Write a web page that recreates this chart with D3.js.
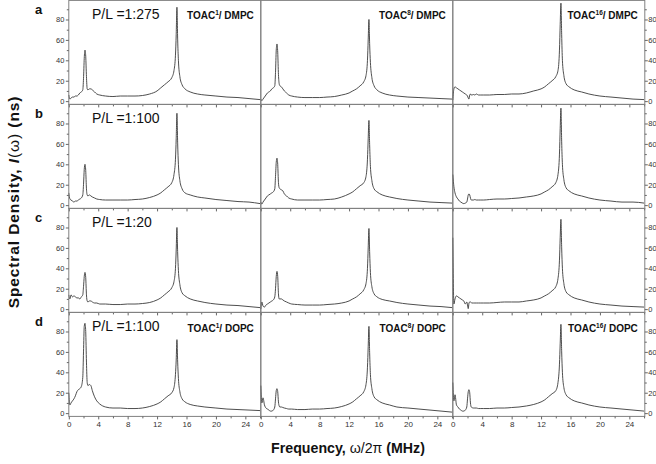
<!DOCTYPE html>
<html>
<head>
<meta charset="utf-8">
<script src="https://cdn.jsdelivr.net/npm/d3@7"></script>
<style>
body { margin: 0; background: #fff; }
svg { display: block; font-family: "Liberation Sans", Arial, sans-serif; }
</style>
</head>
<body>
<svg id="chart" width="656" height="464"></svg>
<script>
// frequency grid (MHz), shared by all spectra
var freq = [0, 0.15, 0.3, 0.5, 0.7, 0.9, 1.1, 1.3, 1.5, 1.7,
	1.9, 2.0, 2.1, 2.2, 2.3, 2.4, 2.5, 2.6, 2.8, 3.0,
	3.2, 3.5, 3.8, 4.2, 5, 6, 7, 8, 9, 10,
	11, 12, 12.5, 13, 13.5, 14, 14.3, 14.5, 14.6, 14.7,
	14.8, 14.9, 15.1, 15.4, 15.8, 16.5, 17.5, 18.5, 20, 21.5,
	23, 24.5, 26];

// spectral density I(w) in ns
var a1 = [6, 2, 3, 4, 4, 5, 5, 6, 8, 9,
	11, 22, 42, 50, 44, 24, 12, 11, 12, 12,
	11, 9, 7, 6, 5, 4.5, 5, 5, 5, 5.5,
	7, 10, 13, 16, 19, 23, 30, 45, 65, 92,
	60, 40, 24, 16, 12, 9, 7, 6, 5, 4,
	3.5, 2.5, 1.5];
var a2 = [2, 0.5, 2, 4, 6, 8, 9, 10, 12, 13,
	15, 28, 50, 56, 48, 26, 17, 15, 14, 12,
	10, 8, 6, 5, 4, 3.5, 3.5, 3.5, 4, 4.5,
	6, 8, 10, 12, 15, 19, 25, 40, 60, 80,
	55, 38, 23, 15, 11, 8, 6, 5, 4, 3.5,
	3, 2.5, 2];
var a3 = [1, 12, 14, 13, 12, 11, 10, 9, 8, 7,
	6, 5, 3, 2, 6, 7, 6, 6, 6.5, 6,
	7, 6, 6, 6, 6, 6.5, 6.5, 7, 7, 8,
	10, 12, 14, 17, 20, 24, 30, 50, 75, 96,
	65, 40, 25, 17, 14, 11, 9, 7, 5, 4,
	3, 2, 1.5];
var b1 = [12, 6, 5, 4, 3, 4, 4, 5, 6, 7,
	10, 20, 35, 40, 34, 16, 10, 9, 10, 9,
	8, 7, 6, 5.5, 5, 5, 5, 5, 5.5, 6,
	7.5, 10, 12, 15, 18, 22, 30, 45, 65, 90,
	60, 40, 24, 16, 12, 10, 8, 7, 5.5, 4.5,
	3.5, 3, 1.5];
var b2 = [3, 1, 3, 5, 7, 9, 10, 11, 12, 13,
	16, 28, 42, 46, 40, 22, 17, 16, 15, 14,
	11, 9, 7, 6, 5, 5, 5, 5, 5.5, 6,
	8, 11, 13, 16, 19, 22, 28, 45, 65, 83,
	58, 38, 24, 16, 13, 10, 8, 6.5, 5, 4,
	3, 2.5, 2];
var b3 = [30, 18, 12, 8, 6, 4, 3, 2, 1.5, 2,
	3, 6, 10, 11, 10, 7, 5, 5, 5, 5.5,
	5, 5, 5, 5, 5.5, 6, 6, 6.5, 7, 8,
	9, 11, 13, 15, 18, 22, 30, 50, 75, 95,
	62, 40, 25, 17, 14, 11, 9, 7, 5, 4,
	3, 3, 2];
var c1 = [14, 10, 14, 12, 13, 12, 11, 11, 10, 12,
	14, 22, 32, 36, 31, 14, 8, 7, 8, 8,
	7, 6, 6, 5, 5, 4.5, 4.5, 5, 5, 5.5,
	6.5, 9, 11, 14, 17, 21, 27, 40, 58, 80,
	55, 38, 24, 16, 13, 10, 8, 6.5, 5, 4,
	3.5, 2.5, 1.5];
var c2 = [0, 7, 3, 2, 4, 5, 6, 7, 8, 9,
	12, 20, 32, 37, 32, 15, 10, 10, 10, 9,
	8, 7, 6, 5, 4.5, 4, 4, 4, 4.5, 5,
	6, 8, 10, 12, 15, 19, 25, 40, 60, 79,
	55, 36, 22, 15, 12, 9.5, 8, 6.5, 5, 4,
	3, 2.5, 1.5];
var c3 = [70, 5, 10, 13, 12, 11, 10, 9, 8, 5,
	7, 4, 0.5, 6, 7, 7, 6.5, 6, 6, 6,
	6, 6, 6, 6, 6, 6.5, 7, 7, 7, 8,
	9, 11, 13, 15, 18, 22, 30, 48, 70, 88,
	60, 40, 25, 17, 14, 11, 9, 7, 5, 4,
	3, 2.5, 2];
var d1 = [20, 8, 10, 12, 14, 17, 21, 23, 24, 26,
	35, 60, 85, 88, 80, 50, 30, 27, 28, 27,
	22, 16, 12, 9, 6, 5, 5, 4.5, 4.5, 5,
	6.5, 9, 11, 14, 17, 20, 25, 38, 52, 72,
	50, 34, 21, 14, 11, 8.5, 7, 6, 5, 4,
	3.5, 3, 2.5];
var d2 = [27, 10, 15, 8, 5, 4, 3, 2, 2, 3,
	6, 14, 22, 24, 21, 11, 7, 6, 6, 5.5,
	5, 4.5, 4, 4, 3.5, 3.5, 4, 4, 4.5, 5,
	6.5, 9, 11, 14, 17, 21, 28, 45, 65, 85,
	58, 38, 24, 16, 13, 10, 8, 6, 5, 4,
	3, 2, 1];
var d3s = [30, 12, 18, 8, 6, 4, 3, 2, 2, 3,
	6, 14, 21, 23, 20, 10, 6, 5.5, 5, 5,
	5, 4.5, 4.5, 4.5, 4.5, 5, 5, 5.5, 6, 7,
	8.5, 11, 13, 16, 19, 22, 30, 48, 68, 87,
	60, 40, 25, 18, 15, 12, 10, 8, 6, 5,
	4, 3, 2];

var spectra = [[a1, a2, a3], [b1, b2, b3], [c1, c2, c3], [d1, d2, d3s]];
var rowLetters = ["a", "b", "c", "d"];
var ratioLabels = ["P/L =1:275", "P/L =1:100", "P/L =1:20", "P/L =1:100"];
var probes = ["1", "8", "16"];
var lipidTop = "DMPC", lipidBottom = "DOPC";
var xTicks = [0, 4, 8, 12, 16, 20, 24],
	xMinor = [2, 6, 10, 14, 18, 22, 26];
var yTicks = [0, 20, 40, 60, 80],
	yMinor = [10, 30, 50, 70, 90];

var left = 68.8,
	top0 = 0.4,
	panel_w = 192,
	panel_h = 104;

var x = d3.scaleLinear().domain([0, 26.1]).range([0, panel_w]);
var y = d3.scaleLinear().domain([-3.2, 98.7]).range([panel_h, 0]);

var svg = d3.select("#chart");

var line = d3.line()
	.x(function(d, i) { return x(freq[i]); })
	.y(function(d) { return y(d); })
	.curve(d3.curveMonotoneX);

function noDomain(g) { g.select(".domain").remove(); }

spectra.forEach(function(row, r) {
	row.forEach(function(vals, c) {
		var g = svg.append("g")
			.attr("transform", "translate(" + (left + c * panel_w) + "," + (top0 + r * panel_h) + ")");

		g.append("path")
			.datum(vals)
			.attr("d", line)
			.attr("fill", "none")
			.attr("stroke", "#3a3a3a")
			.attr("stroke-width", 0.9)
			.attr("stroke-linejoin", "round");

		g.append("rect")
			.attr("width", panel_w)
			.attr("height", panel_h)
			.attr("fill", "none")
			.attr("stroke", "#808080")
			.attr("stroke-width", 1);

		// bottom ticks, outward
		var bx = g.append("g")
			.attr("transform", "translate(0," + panel_h + ")")
			.attr("color", "#666")
			.call(d3.axisBottom(x).tickValues(xTicks).tickSize(3).tickPadding(2)
				.tickFormat(r == 3 ? d3.format("d") : ""))
			.call(noDomain);
		bx.selectAll("text").attr("fill", "#333").style("font-size", "8px");
		g.append("g")
			.attr("transform", "translate(0," + panel_h + ")")
			.attr("color", "#666")
			.call(d3.axisBottom(x).tickValues(xMinor.filter(function(v) { return v < 26.1; }))
				.tickSize(2).tickFormat(""))
			.call(noDomain);

		if (c == 0) {
			var ly = g.append("g")
				.attr("color", "#666")
				.call(d3.axisLeft(y).tickValues(yTicks).tickSize(3).tickPadding(1.5))
				.call(noDomain);
			ly.selectAll("text").attr("fill", "#333").style("font-size", "7.5px");
			g.append("g")
				.attr("color", "#666")
				.call(d3.axisLeft(y).tickValues(yMinor).tickSize(2).tickFormat(""))
				.call(noDomain);
		}
		if (c == 2) {
			var ry = g.append("g")
				.attr("transform", "translate(" + panel_w + ",0)")
				.attr("color", "#666")
				.call(d3.axisRight(y).tickValues(yTicks).tickSize(3).tickPadding(0.5))
				.call(noDomain);
			ry.selectAll("text").attr("fill", "#333").style("font-size", "7.5px");
			g.append("g")
				.attr("transform", "translate(" + panel_w + ",0)")
				.attr("color", "#666")
				.call(d3.axisRight(y).tickValues(yMinor).tickSize(2).tickFormat(""))
				.call(noDomain);
		}

		// probe / lipid label on first and last rows
		if (r == 0 || r == 3) {
			var t = g.append("text")
				.attr("x", panel_w - 7)
				.attr("y", r == 0 ? 19 : 19.5)
				.attr("text-anchor", "end")
				.style("font-size", "10px")
				.style("font-weight", "bold")
				.attr("fill", "#111");
			t.append("tspan").text("TOAC");
			t.append("tspan").attr("dy", -4).style("font-size", "6.5px").text(probes[c]);
			t.append("tspan").attr("dy", 4).text("/ " + (r == 0 ? lipidTop : lipidBottom));
		}
	});

	var rowTop = top0 + r * panel_h;
	svg.append("text")
		.attr("x", 35)
		.attr("y", rowTop + 14)
		.style("font-size", "13px")
		.style("font-weight", "bold")
		.attr("fill", "#111")
		.text(rowLetters[r]);

	svg.append("text")
		.attr("x", 92)
		.attr("y", rowTop + 19)
		.style("font-size", "14px")
		.attr("fill", "#111")
		.text(ratioLabels[r]);
});

// axis titles
var yt = svg.append("text")
	.attr("transform", "translate(18.5,202) rotate(-90)")
	.attr("text-anchor", "middle")
	.style("font-size", "15.5px")
	.style("letter-spacing", "0.9px")
	.style("font-weight", "bold")
	.attr("fill", "#111");
yt.append("tspan").text("Spectral Density, ");
yt.append("tspan").style("font-style", "italic").text("I");
yt.append("tspan").style("font-weight", "normal").text("(\u03c9)");
yt.append("tspan").text("  (ns)");

var xt = svg.append("text")
	.attr("x", 348)
	.attr("y", 453)
	.attr("text-anchor", "middle")
	.style("font-size", "14.2px")
	.style("font-weight", "bold")
	.attr("fill", "#111");
xt.append("tspan").text("Frequency, ");
xt.append("tspan").style("font-weight", "normal").text("\u03c9/2\u03c0");
xt.append("tspan").text(" (MHz)");
</script>
</body>
</html>
